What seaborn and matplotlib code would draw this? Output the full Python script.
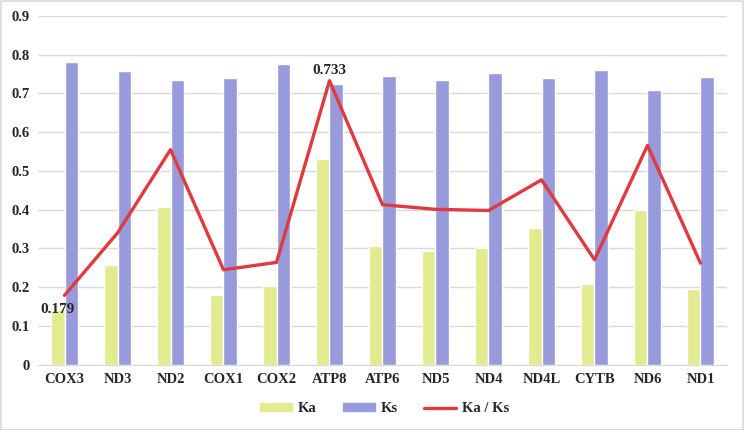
import pandas as pd
import matplotlib.pyplot as plt
import seaborn as sns
from matplotlib.lines import Line2D
from matplotlib.patches import Patch, Rectangle
from matplotlib.ticker import FuncFormatter

# データ
genes = ["COX3", "ND3", "ND2", "COX1", "COX2", "ATP8", "ATP6",
         "ND5", "ND4", "ND4L", "CYTB", "ND6", "ND1"]
ka = [0.141, 0.258, 0.407, 0.180, 0.204, 0.531, 0.307,
      0.294, 0.300, 0.353, 0.207, 0.400, 0.196]
ks = [0.781, 0.759, 0.736, 0.740, 0.777, 0.724, 0.745,
      0.734, 0.754, 0.740, 0.760, 0.709, 0.742]
ka_ks = [0.179, 0.340, 0.555, 0.245, 0.264, 0.733, 0.413,
         0.401, 0.398, 0.477, 0.271, 0.566, 0.262]

col_ka = "#E2EB8F"
col_ks = "#989BDB"
col_line = "#E0393E"

sns.set_style("white")
plt.rcParams["font.family"] = ["Liberation Serif", "DejaVu Serif"]
plt.rcParams["font.weight"] = "bold"

bars = pd.DataFrame({"gene": genes * 2,
                     "value": ka + ks,
                     "kind": ["Ka"] * len(genes) + ["Ks"] * len(genes)})
ratio = pd.DataFrame({"gene": genes, "ratio": ka_ks})

fig = plt.figure(figsize=(7.44, 4.30), dpi=100)
ax = fig.add_axes([38 / 744, (430 - 364.7) / 430, 689 / 744, 348.7 / 430])

sns.barplot(data=bars, x="gene", y="value", hue="kind", order=genes,
            palette={"Ka": col_ka, "Ks": col_ks}, width=0.5, gap=0,
            saturation=1, legend=False, ax=ax)
sns.lineplot(data=ratio, x="gene", y="ratio", color=col_line, lw=2.4,
             sort=False, ax=ax)

ax.set_ylim(0, 0.9)
ax.set_yticks([i / 10 for i in range(10)])
ax.yaxis.set_major_formatter(FuncFormatter(lambda v, p: "0" if v == 0 else f"{v:.1f}"))
ax.set_xlim(-0.5, len(genes) - 0.5)
ax.grid(axis="y", color="#D9D9D9", lw=1)
ax.set_axisbelow(True)
for s in ["top", "right", "left"]:
    ax.spines[s].set_visible(False)
ax.spines["bottom"].set_color("#D9D9D9")
ax.tick_params(axis="both", length=0, labelsize=10.5, pad=6)
ax.set_xlabel("")
ax.set_ylabel("")

# 数値ラベル
ax.annotate(f"{ka_ks[0]:.3f}", (0, ka_ks[0]), xytext=(-5, -13),
            textcoords="offset points", ha="center", fontsize=11, fontweight="bold")
i_max = ka_ks.index(max(ka_ks))
ax.annotate(f"{ka_ks[i_max]:.3f}", (i_max, ka_ks[i_max]), xytext=(0, 5),
            textcoords="offset points", ha="center", fontsize=11, fontweight="bold")

handles = [Patch(color=col_ka, label="Ka"),
           Patch(color=col_ks, label="Ks"),
           Line2D([], [], color=col_line, lw=2.4, label="Ka / Ks")]
fig.legend(handles=handles, loc="center", bbox_to_anchor=(0.517, 21 / 430), ncol=3,
           frameon=False, fontsize=10.5, handlelength=2.2, handleheight=0.45,
           handletextpad=0.4, columnspacing=1.8)

fig.add_artist(Rectangle((0.001, 0.001), 0.997, 0.997, transform=fig.transFigure,
                         fill=False, edgecolor="#D9D9D9", lw=1.2))

fig.savefig("out.png", dpi=100)
